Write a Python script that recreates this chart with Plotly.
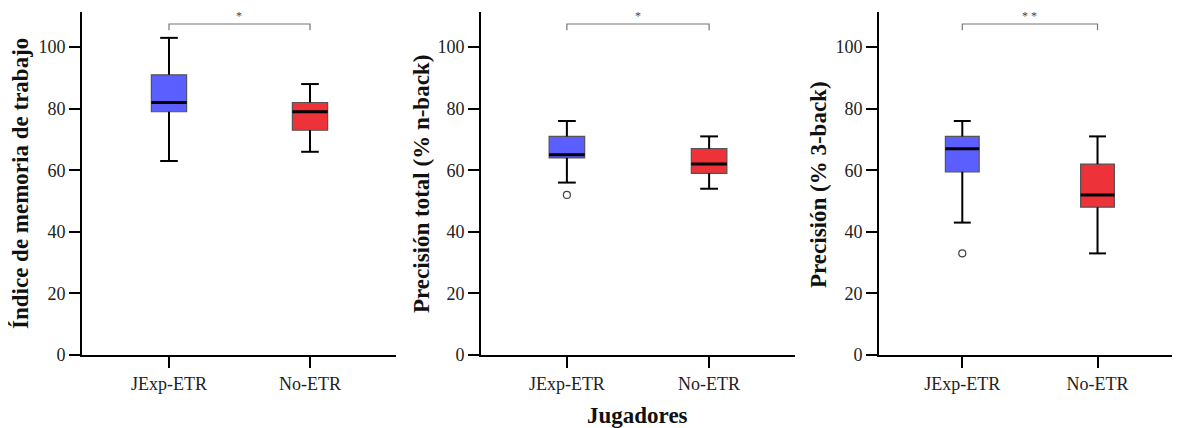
import plotly.graph_objects as go

W, H = 1180, 428
OFF = 8  # page body margin offset in the browser

groups = ["JExp-ETR", "No-ETR"]
titles = ["Índice de memoria de trabajo", "Precisión total (% n-back)", "Precisión (% 3-back)"]
sig_labels = ["*", "*", "* *"]

# per panel, per group: lower whisker, q1, median, q3, upper whisker
lowf = [[63, 66], [56, 54], [43, 33]]
q1s = [[79, 73], [64, 59], [59.5, 48]]
meds = [[82, 79], [65, 62], [67, 52]]
q3s = [[91, 82], [71, 67], [71, 62]]
upf = [[103, 88], [76, 71], [76, 71]]
outliers = [[[], []], [[52], []], [[33], []]]

yticks = [0, 20, 40, 60, 80, 100]
colors = ["#5B5FFF", "#EE3239"]
box_w = 0.25
cap_w = box_w / 2


def px_x(x):
    return (x - OFF) / W


def px_y(y):
    return (H - (y - OFF)) / H


# pixel layout (screen pixels)
x_dom_px = [(82, 396), (481, 795), (879, 1180)]
x_ranges = [(-0.617, 1.61), (-0.604, 1.604), (-0.616, 1.61)]
y_dom = [px_y(355), px_y(12)]
y_range = [0, 111.4]
title_x_px = [20, 421, 818]

font_family = "Liberation Serif, Times New Roman, serif"

fig = go.Figure()
for p in range(3):
    xa = "x" if p == 0 else f"x{p+1}"
    ya = "y" if p == 0 else f"y{p+1}"
    for g in range(2):
        # whiskers (black, drawn under the box)
        wx = [g, g, None, g - cap_w / 2, g + cap_w / 2, None,
              g, g, None, g - cap_w / 2, g + cap_w / 2]
        wy = [q3s[p][g], upf[p][g], None, upf[p][g], upf[p][g], None,
              q1s[p][g], lowf[p][g], None, lowf[p][g], lowf[p][g]]
        fig.add_trace(go.Scatter(
            x=wx, y=wy, mode="lines", line=dict(color="black", width=2),
            showlegend=False, hoverinfo="skip", xaxis=xa, yaxis=ya,
        ))
        fig.add_trace(go.Box(
            x=[g], q1=[q1s[p][g]], median=[meds[p][g]], q3=[q3s[p][g]],
            lowerfence=[q1s[p][g]], upperfence=[q3s[p][g]],
            width=box_w, whiskerwidth=0,
            fillcolor=colors[g], line=dict(color="#555555", width=1.2),
            boxpoints=False, showlegend=False, xaxis=xa, yaxis=ya,
        ))
        # thick median line
        fig.add_trace(go.Scatter(
            x=[g - box_w / 2, g + box_w / 2], y=[meds[p][g], meds[p][g]],
            mode="lines", line=dict(color="black", width=3),
            showlegend=False, hoverinfo="skip", xaxis=xa, yaxis=ya,
        ))
        if outliers[p][g]:
            fig.add_trace(go.Scatter(
                x=[g] * len(outliers[p][g]), y=outliers[p][g], mode="markers",
                marker=dict(symbol="circle-open", size=7, color="#444444", line=dict(width=1.2)),
                showlegend=False, xaxis=xa, yaxis=ya,
            ))
    # significance bracket
    fig.add_trace(go.Scatter(
        x=[0, 0, 1, 1], y=[105.5, 107.5, 107.5, 105.5], mode="lines",
        line=dict(color="#777777", width=1.2),
        showlegend=False, hoverinfo="skip", xaxis=xa, yaxis=ya,
    ))
    fig.add_annotation(x=0.5, y=110.2, xref=xa, yref=ya, text=sig_labels[p],
                       showarrow=False, font=dict(size=12, color="#444444", family=font_family))

    x0, x1 = x_dom_px[p]
    axis_common = dict(showline=True, linecolor="black", linewidth=2, ticks="outside",
                       ticklen=11, tickwidth=2, tickcolor="black", showgrid=False, zeroline=False,
                       automargin=False,
                       tickfont=dict(family=font_family, size=18, color="#222222"))
    fig.layout[("xaxis" if p == 0 else f"xaxis{p+1}")] = dict(
        domain=[px_x(x0), min(1.0, px_x(x1))], range=list(x_ranges[p]), anchor=ya,
        tickvals=[0, 1], ticktext=groups, **axis_common)
    fig.layout[("yaxis" if p == 0 else f"yaxis{p+1}")] = dict(
        domain=list(y_dom), range=y_range, anchor=xa, tickvals=yticks, **axis_common)

    fig.add_annotation(x=px_x(title_x_px[p]), y=px_y(184), xref="paper", yref="paper",
                       text=f"<b>{titles[p]}</b>", textangle=-90, showarrow=False,
                       xanchor="center", yanchor="middle",
                       font=dict(family=font_family, size=23, color="#111111"))

fig.add_annotation(x=px_x(637), y=px_y(415), xref="paper", yref="paper",
                   text="<b>Jugadores</b>", showarrow=False, xanchor="center", yanchor="middle",
                   font=dict(family=font_family, size=23, color="#111111"))

fig.update_layout(width=W, height=H, margin=dict(l=0, r=0, t=0, b=0),
                  paper_bgcolor="white", plot_bgcolor="white", showlegend=False)

fig.write_html("out.html")
